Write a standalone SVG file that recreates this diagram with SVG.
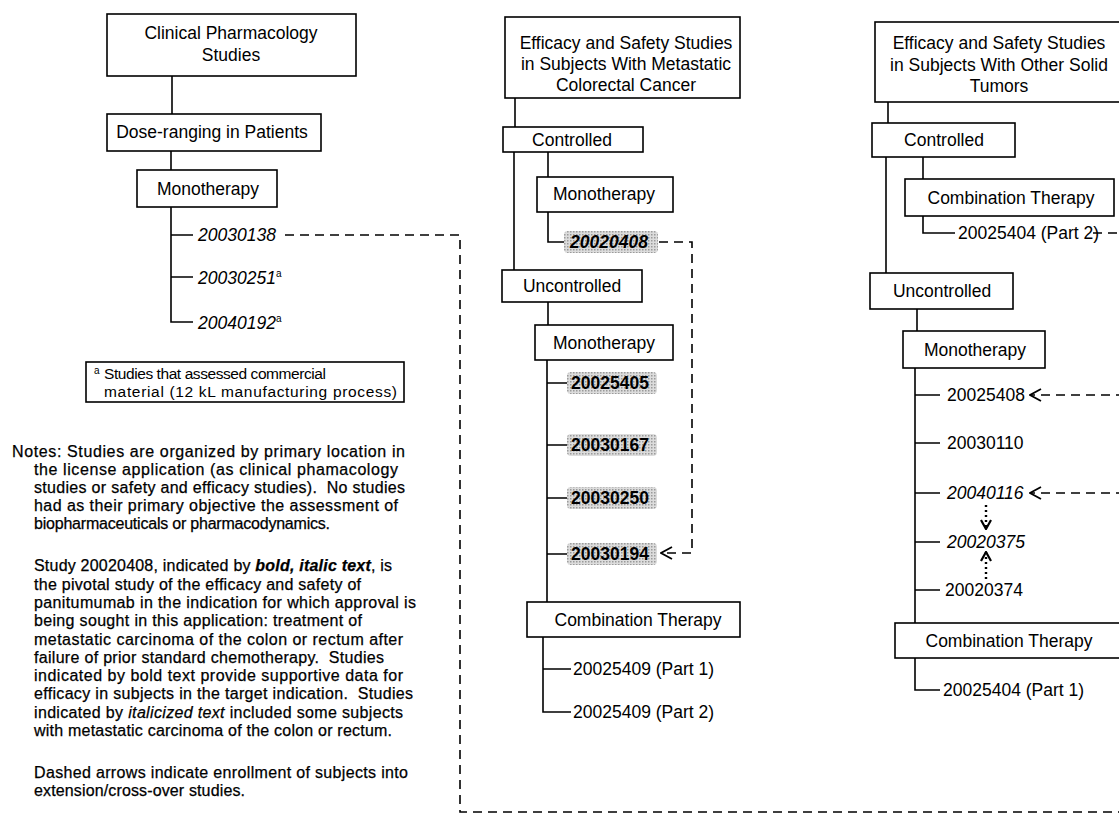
<svg xmlns="http://www.w3.org/2000/svg" width="1119" height="821" viewBox="0 0 1119 821">
<style>
.box{fill:#fff;stroke:#000;stroke-width:1.6}
.ln{fill:none;stroke:#000;stroke-width:1.6}
.dash{fill:none;stroke:#000;stroke-width:1.6;stroke-dasharray:9 6}
.dot{fill:none;stroke:#000;stroke-width:2.4;stroke-dasharray:2 3}
.t{font-family:"Liberation Sans",Arial,sans-serif;font-size:17.5px;fill:#000}
.c{text-anchor:middle}
.it{font-style:italic}
.b{font-weight:bold}
.n{font-family:"Liberation Sans",Arial,sans-serif;font-size:16px;fill:#000;stroke:#000;stroke-width:0.25}
.fn{font-family:"Liberation Sans",Arial,sans-serif;font-size:15.5px;fill:#000}
.hl{fill:url(#stip)}
.sup{font-size:10px}
</style>
<defs>
<pattern id="stip" width="3" height="3" patternUnits="userSpaceOnUse">
<rect width="3" height="3" fill="#dcdcdc"/>
<rect width="1.5" height="1.5" fill="#9a9a9a"/>
</pattern>
<marker id="chev" viewBox="0 0 13 15" refX="12" refY="7.5" markerWidth="13" markerHeight="15" markerUnits="userSpaceOnUse" orient="auto">
<path d="M1 1.5 L12 7.5 L1 13.5" fill="none" stroke="#000" stroke-width="1.8"/>
</marker>
<marker id="chevs" viewBox="0 0 11 13" refX="10" refY="6.5" markerWidth="11" markerHeight="13" markerUnits="userSpaceOnUse" orient="auto">
<path d="M1 1.5 L10 6.5 L1 11.5" fill="none" stroke="#000" stroke-width="2.2"/>
</marker>
</defs>
<rect width="1119" height="821" fill="#fff"/>

<g id="connectors">
<path class="ln" d="M172 76 V114"/>
<path class="ln" d="M171 151 V170"/>
<path class="ln" d="M171 207 V322 H193 M171 235 H193 M171 277 H193"/>
<path class="ln" d="M515 98 V127"/>
<path class="ln" d="M514 152 V270"/>
<path class="ln" d="M548 152 V177"/>
<path class="ln" d="M548 212 V242 H565"/>
<path class="ln" d="M548 302 V325"/>
<path class="ln" d="M547 360 V602 M547 383 H568 M547 445 H568 M547 498 H568 M547 554 H568"/>
<path class="ln" d="M543 637 V712 H571 M543 669 H571"/>
<path class="ln" d="M888 102 V123"/>
<path class="ln" d="M886 157 V273"/>
<path class="ln" d="M923 157 V179"/>
<path class="ln" d="M923 216 V233 H955"/>
<path class="ln" d="M917 309 V331"/>
<path class="ln" d="M915 368 V623 M915 658 V690 H940 M915 395 H940 M915 443 H940 M915 493 H940 M915 542 H940 M915 590 H940"/>
<path class="dash" d="M285 235 H460 V812 H1125"/>
<path class="dash" d="M659 242 H692 V553 H661" marker-end="url(#chev)"/>
<path class="dash" d="M1093 233 H1125"/>
<path class="dash" d="M1125 395 H1030" marker-end="url(#chev)"/>
<path class="dash" d="M1125 493 H1030" marker-end="url(#chev)"/>
<path class="dot" d="M986 505 V529" marker-end="url(#chevs)"/>
<path class="dot" d="M986 579 V552" marker-end="url(#chevs)"/>
</g>

<g id="clin-pharm">
<rect class="box" x="107" y="14" width="249" height="62"/>
<text class="t c" x="231" y="39">Clinical Pharmacology</text>
<text class="t c" x="231" y="61">Studies</text>
</g>
<g id="dose-ranging">
<rect class="box" x="107" y="114" width="214" height="37"/>
<text class="t c" x="212" y="138">Dose-ranging in Patients</text>
</g>
<g id="left-mono">
<rect class="box" x="137" y="170" width="140" height="37"/>
<text class="t c" x="208" y="195">Monotherapy</text>
</g>
<g id="s20030138"><text class="t it" x="198" y="241">20030138</text></g>
<g id="s20030251"><text class="t it" x="198" y="284">20030251<tspan class="sup" dy="-7" font-style="normal">a</tspan></text></g>
<g id="s20040192"><text class="t it" x="198" y="329">20040192<tspan class="sup" dy="-7" font-style="normal">a</tspan></text></g>

<g id="footnote">
<rect class="box" x="86" y="362" width="318" height="40"/>
<text class="fn" x="94" y="374" style="font-size:10px">a</text>
<text class="fn" x="104" y="379" textLength="222">Studies that assessed commercial</text>
<text class="fn" x="104" y="397" textLength="293">material (12 kL manufacturing process)</text>
</g>

<g id="notes">
<text class="n" x="12" y="457" textLength="393">Notes: Studies are organized by primary location in</text>
<text class="n" x="34" y="475" textLength="364">the license application (as clinical phamacology</text>
<text class="n" x="34" y="493" textLength="371" xml:space="preserve">studies or safety and efficacy studies).  No studies</text>
<text class="n" x="34" y="511" textLength="364">had as their primary objective the assessment of</text>
<text class="n" x="34" y="529" textLength="296">biopharmaceuticals or pharmacodynamics.</text>
<text class="n" x="34" y="571" textLength="358">Study 20020408, indicated by <tspan class="b it">bold, italic text</tspan>, is</text>
<text class="n" x="34" y="590" textLength="327">the pivotal study of the efficacy and safety of</text>
<text class="n" x="34" y="608" textLength="382">panitumumab in the indication for which approval is</text>
<text class="n" x="34" y="626" textLength="328">being sought in this application: treatment of</text>
<text class="n" x="34" y="645" textLength="369">metastatic carcinoma of the colon or rectum after</text>
<text class="n" x="34" y="663" textLength="350" xml:space="preserve">failure of prior standard chemotherapy.  Studies</text>
<text class="n" x="34" y="681" textLength="369">indicated by bold text provide supportive data for</text>
<text class="n" x="34" y="699" textLength="379" xml:space="preserve">efficacy in subjects in the target indication.  Studies</text>
<text class="n" x="34" y="718" textLength="369">indicated by <tspan class="it">italicized text</tspan> included some subjects</text>
<text class="n" x="34" y="736" textLength="358">with metastatic carcinoma of the colon or rectum.</text>
<text class="n" x="34" y="778" textLength="374">Dashed arrows indicate enrollment of subjects into</text>
<text class="n" x="34" y="796" textLength="211">extension/cross-over studies.</text>
</g>

<g id="mcrc">
<rect class="box" x="505" y="17" width="235" height="81"/>
<text class="t c" x="626" y="49">Efficacy and Safety Studies</text>
<text class="t c" x="626" y="70">in Subjects With Metastatic</text>
<text class="t c" x="626" y="91">Colorectal Cancer</text>
</g>
<g id="mid-controlled">
<rect class="box" x="503" y="127" width="140" height="25"/>
<text class="t c" x="572" y="146">Controlled</text>
</g>
<g id="mid-mono1">
<rect class="box" x="537" y="177" width="136" height="35"/>
<text class="t c" x="604" y="200">Monotherapy</text>
</g>
<g id="s20020408">
<rect class="hl" x="564" y="231" width="94" height="22" rx="4"/>
<text class="t b it" x="570" y="248">20020408</text>
</g>
<g id="mid-uncontrolled">
<rect class="box" x="502" y="270" width="140" height="32"/>
<text class="t c" x="572" y="292">Uncontrolled</text>
</g>
<g id="mid-mono2">
<rect class="box" x="535" y="325" width="138" height="35"/>
<text class="t c" x="604" y="349">Monotherapy</text>
</g>
<g id="s20025405">
<rect class="hl" x="567" y="372" width="90" height="22" rx="4"/>
<text class="t b" x="571" y="389">20025405</text>
</g>
<g id="s20030167">
<rect class="hl" x="567" y="434" width="90" height="22" rx="4"/>
<text class="t b" x="571" y="451">20030167</text>
</g>
<g id="s20030250">
<rect class="hl" x="567" y="487" width="90" height="22" rx="4"/>
<text class="t b" x="571" y="504">20030250</text>
</g>
<g id="s20030194">
<rect class="hl" x="567" y="543" width="90" height="22" rx="4"/>
<text class="t b" x="571" y="560">20030194</text>
</g>
<g id="mid-combo">
<rect class="box" x="527" y="602" width="213" height="35"/>
<text class="t c" x="638" y="626">Combination Therapy</text>
</g>
<g id="s20025409-1"><text class="t" x="573" y="675">20025409 (Part 1)</text></g>
<g id="s20025409-2"><text class="t" x="573" y="718">20025409 (Part 2)</text></g>

<g id="other-solid">
<rect class="box" x="875" y="22" width="260" height="80"/>
<text class="t c" x="999" y="49">Efficacy and Safety Studies</text>
<text class="t c" x="999" y="71">in Subjects With Other Solid</text>
<text class="t c" x="999" y="92">Tumors</text>
</g>
<g id="right-controlled">
<rect class="box" x="872" y="123" width="143" height="34"/>
<text class="t c" x="944" y="146">Controlled</text>
</g>
<g id="right-combo1">
<rect class="box" x="905" y="179" width="209" height="37"/>
<text class="t c" x="1011" y="204">Combination Therapy</text>
</g>
<g id="s20025404-2"><text class="t" x="958" y="239">20025404 (Part 2)</text></g>
<g id="right-uncontrolled">
<rect class="box" x="870" y="273" width="143" height="36"/>
<text class="t c" x="942" y="297">Uncontrolled</text>
</g>
<g id="right-mono">
<rect class="box" x="903" y="331" width="142" height="37"/>
<text class="t c" x="975" y="356">Monotherapy</text>
</g>
<g id="s20025408"><text class="t" x="947" y="401">20025408</text></g>
<g id="s20030110"><text class="t" x="947" y="449">20030110</text></g>
<g id="s20040116"><text class="t it" x="947" y="499">20040116</text></g>
<g id="s20020375"><text class="t it" x="947" y="548">20020375</text></g>
<g id="s20020374"><text class="t" x="945" y="596">20020374</text></g>
<g id="right-combo2">
<rect class="box" x="895" y="623" width="240" height="35"/>
<text class="t c" x="1009" y="647">Combination Therapy</text>
</g>
<g id="s20025404-1"><text class="t" x="943" y="696">20025404 (Part 1)</text></g>
</svg>
